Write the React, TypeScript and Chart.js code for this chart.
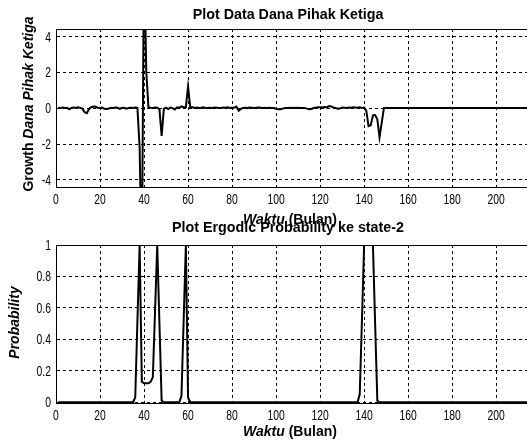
import React, { useEffect, useRef } from 'react';
import { Chart, registerables } from 'chart.js';

Chart.register(...registerables);

// Month axis ticks (shared by both panels)
const X_TICKS = [0, 20, 40, 60, 80, 100, 120, 140, 160, 180, 200];
const X_MAX = 214;

// Growth of third-party funds, one value per month (months 1..214);
// the month-39/40 swing runs past the fixed axis limits
const GROWTH = [
  0.03, 0.02, 0.04, 0.01, 0.03, -0.06, 0.02, 0.04, 0.01, 0.05,
  0.02, -0.02, -0.22, -0.28, -0.04, 0.06, 0.1, 0.08, 0.03, 0.02,
  0.04, -0.03, -0.04, -0.02, 0.03, 0.02, 0.04, 0.03, -0.03, 0.02,
  0.03, -0.02, 0.02, 0.03, 0.01, 0.04, 0.02, -2.2, -9.0, 9.0,
  2.1, 0.06, 0.03, 0.02, 0.04, 0.03, -0.05, -1.55, -0.04, 0.03,
  -0.05, 0.04, 0.01, -0.07, 0.05, 0.02, 0.1, 0.06, 0.06, 1.2,
  0.05, 0.05, 0.02, 0.04, 0.01, 0.03, 0.05, 0.02, 0.01, 0.03,
  0.02, 0.04, 0.03, 0.01, 0.02, 0.04, 0.03, 0.05, 0.02, 0.03,
  0.04, 0.08, -0.14, -0.04, 0.02, 0.03, 0.02, 0.04, 0.03, 0.02,
  0.03, 0.04, 0.03, 0.02, 0.03, 0.02, 0.03, 0.02, 0.01, -0.04,
  -0.06, -0.05, -0.02, 0.01, 0.02, 0.03, 0.02, 0.03, 0.02, 0.03,
  0.02, 0.01, 0.02, -0.02, -0.05, -0.04, 0.01, 0.03, 0.05, 0.06,
  0.04, 0.07, 0.05, 0.12, 0.1, 0.04, 0.02, -0.03, -0.02, 0.04,
  0.03, 0.02, 0.04, 0.03, 0.05, 0.04, 0.03, 0.05, 0.02, 0.04,
  -0.15, -1.0, -0.95, -0.4, -0.38, -0.62, -1.62, -0.8, 0.02, 0.02,
  0.02, 0.02, 0.02, 0.02, 0.02, 0.02, 0.02, 0.02, 0.02, 0.02,
  0.02, 0.02, 0.02, 0.02, 0.02, 0.02, 0.02, 0.02, 0.02, 0.02,
  0.02, 0.02, 0.02, 0.02, 0.02, 0.02, 0.02, 0.02, 0.02, 0.02,
  0.02, 0.02, 0.02, 0.02, 0.02, 0.02, 0.02, 0.02, 0.02, 0.02,
  0.02, 0.02, 0.02, 0.02, 0.02, 0.02, 0.02, 0.02, 0.02, 0.02,
  0.02, 0.02, 0.02, 0.02, 0.02, 0.02, 0.02, 0.02, 0.02, 0.02,
  0.02, 0.02, 0.02, 0.02,
];
const GROWTH_TICKS = [-4, -2, 0, 2, 4];

// Ergodic probability of being in state 2, one value per month (months 1..214)
const PROB = [
  0, 0, 0, 0, 0, 0, 0, 0, 0, 0,
  0, 0, 0, 0, 0, 0, 0, 0, 0, 0,
  0, 0, 0, 0, 0, 0, 0, 0, 0, 0,
  0, 0, 0, 0, 0, 0.03, 0.52, 1, 0.13, 0.12,
  0.12, 0.12, 0.13, 0.16, 0.58, 1, 0.5, 0.01, 0, 0,
  0, 0, 0, 0, 0, 0, 0.04, 0.52, 1, 0.03,
  0, 0, 0, 0, 0, 0, 0, 0, 0, 0,
  0, 0, 0, 0, 0, 0, 0, 0, 0, 0,
  0, 0, 0, 0, 0, 0, 0, 0, 0, 0,
  0, 0, 0, 0, 0, 0, 0, 0, 0, 0,
  0, 0, 0, 0, 0, 0, 0, 0, 0, 0,
  0, 0, 0, 0, 0, 0, 0, 0, 0, 0,
  0, 0, 0, 0, 0, 0, 0, 0, 0, 0,
  0, 0, 0, 0, 0, 0, 0, 0.05, 0.52, 1,
  1, 1, 1, 1, 0.5, 0.01, 0, 0, 0, 0,
  0, 0, 0, 0, 0, 0, 0, 0, 0, 0,
  0, 0, 0, 0, 0, 0, 0, 0, 0, 0,
  0, 0, 0, 0, 0, 0, 0, 0, 0, 0,
  0, 0, 0, 0, 0, 0, 0, 0, 0, 0,
  0, 0, 0, 0, 0, 0, 0, 0, 0, 0,
  0, 0, 0, 0, 0, 0, 0, 0, 0, 0,
  0, 0, 0, 0,
];
const PROB_TICKS = [0, 0.2, 0.4, 0.6, 0.8, 1];

const WIDTH = 527;
const PLOT_LEFT = 56;
const FAMILY = '"Liberation Sans", Arial, sans-serif';
const TICK_SIZE = 14;
const TICK_SQUEEZE = 0.74; // narrow tick-label digits
const TICK_RIGHT = 51;

type Part = { text: string; italic?: boolean };

function drawParts(ctx: CanvasRenderingContext2D, parts: Part[], cx: number, baseline: number, size: number) {
  const fontOf = (p: Part) => `${p.italic ? 'italic ' : ''}bold ${size}px ${FAMILY}`;
  let total = 0;
  const widths = parts.map((p) => {
    ctx.font = fontOf(p);
    const w = ctx.measureText(p.text).width;
    total += w;
    return w;
  });
  let x = cx - total / 2;
  ctx.textAlign = 'left';
  ctx.textBaseline = 'alphabetic';
  parts.forEach((p, i) => {
    ctx.font = fontOf(p);
    ctx.fillText(p.text, x, baseline);
    x += widths[i];
  });
}

function drawTickLabel(ctx: CanvasRenderingContext2D, text: string, x: number, y: number, align: CanvasTextAlign) {
  ctx.save();
  ctx.translate(x, y);
  ctx.scale(TICK_SQUEEZE, 1);
  ctx.font = `${TICK_SIZE}px ${FAMILY}`;
  ctx.textAlign = align;
  ctx.textBaseline = 'alphabetic';
  ctx.fillText(text, 0, 0);
  ctx.restore();
}

// Draws the box top, tick labels, the title and the mixed-style axis labels
const panelDecor = {
  id: 'panelDecor',
  afterDraw(chart: any, _args: any, opts: any) {
    const { ctx, chartArea: a, scales } = chart;
    ctx.save();
    ctx.strokeStyle = '#000';
    ctx.lineWidth = 1;
    ctx.beginPath();
    ctx.moveTo(a.left, Math.round(a.top) + 0.5);
    ctx.lineTo(a.right, Math.round(a.top) + 0.5);
    ctx.stroke();
    ctx.fillStyle = '#000';

    for (const t of scales.x.ticks) {
      drawTickLabel(ctx, String(t.value), scales.x.getPixelForValue(t.value), a.bottom + 16.5, 'center');
    }
    for (const t of scales.y.ticks) {
      drawTickLabel(ctx, String(t.value), TICK_RIGHT, scales.y.getPixelForValue(t.value) + 5, 'right');
    }

    drawParts(ctx, [{ text: opts.title }], opts.titleX, opts.titleBaseline, 14.3);
    drawParts(ctx, opts.xLabel, opts.xLabelX, opts.xLabelBaseline, 14);
    ctx.translate(opts.yLabelBaseline, opts.yLabelCenter);
    ctx.rotate(-Math.PI / 2);
    drawParts(ctx, opts.yLabel, 0, 0, 14);
    ctx.restore();
  },
};

interface Panel {
  values: number[];
  yTicks: number[];
  yMin: number;
  yMax: number;
  height: number;
  plotTop: number;
  plotBottom: number;
  decor: any;
}

function buildChart(canvas: HTMLCanvasElement, p: Panel) {
  return new Chart(canvas, {
    type: 'line',
    data: {
      datasets: [
        {
          data: p.values.map((y, i) => ({ x: i + 1, y })),
          borderColor: '#000',
          borderWidth: 2,
          pointRadius: 0,
          tension: 0,
          fill: false,
        },
      ],
    },
    plugins: [panelDecor],
    options: {
      responsive: false,
      animation: false,
      events: [],
      layout: { padding: { top: p.plotTop, left: 0, right: 0, bottom: 0 } },
      plugins: {
        legend: { display: false },
        tooltip: { enabled: false },
        panelDecor: p.decor,
      } as any,
      scales: {
        x: {
          type: 'linear',
          min: 0,
          max: X_MAX,
          afterBuildTicks: (s: any) => {
            s.ticks = X_TICKS.map((v) => ({ value: v }));
          },
          afterFit: (s: any) => {
            s.height = p.height - p.plotBottom;
          },
          ticks: { display: false },
          grid: { color: '#000', lineWidth: 1, drawTicks: false },
          border: { display: true, color: '#000', width: 1, dash: [3, 3] },
        },
        y: {
          type: 'linear',
          min: p.yMin,
          max: p.yMax,
          afterBuildTicks: (s: any) => {
            s.ticks = p.yTicks.map((v) => ({ value: v }));
          },
          afterFit: (s: any) => {
            s.width = PLOT_LEFT;
          },
          ticks: { display: false },
          grid: { color: '#000', lineWidth: 1, drawTicks: false },
          border: { display: true, color: '#000', width: 1, dash: [3, 3] },
        },
      },
    } as any,
  });
}

const TOP: Panel = {
  values: GROWTH,
  yTicks: GROWTH_TICKS,
  yMin: -4.42,
  yMax: 4.42,
  height: 232,
  plotTop: 29,
  plotBottom: 187.5,
  decor: {
    title: 'Plot Data Dana Pihak Ketiga',
    titleX: 288,
    titleBaseline: 19,
    xLabel: [{ text: 'Waktu', italic: true }, { text: ' (Bulan)' }],
    xLabelX: 290,
    xLabelBaseline: 224,
    yLabel: [{ text: 'Growth ' }, { text: 'Dana Pihak Ketiga', italic: true }],
    yLabelBaseline: 33,
    yLabelCenter: 104,
  },
};

const BOTTOM: Panel = {
  values: PROB,
  yTicks: PROB_TICKS,
  yMin: -0.008,
  yMax: 1,
  height: 232,
  plotTop: 30,
  plotBottom: 188.5,
  decor: {
    title: 'Plot Ergodic Probability ke state-2',
    titleX: 288,
    titleBaseline: 17,
    xLabel: [{ text: 'Waktu', italic: true }, { text: ' (Bulan)' }],
    xLabelX: 290,
    xLabelBaseline: 221,
    yLabel: [{ text: 'Probability', italic: true }],
    yLabelBaseline: 19,
    yLabelCenter: 107.5,
  },
};

export default function App() {
  const topRef = useRef<HTMLCanvasElement>(null);
  const bottomRef = useRef<HTMLCanvasElement>(null);

  useEffect(() => {
    const charts: Chart[] = [];
    if (topRef.current) charts.push(buildChart(topRef.current, TOP));
    if (bottomRef.current) charts.push(buildChart(bottomRef.current, BOTTOM));
    return () => charts.forEach((c) => c.destroy());
  }, []);

  return (
    <div style={{ position: 'fixed', left: 0, top: 0, width: WIDTH, height: 447, background: '#fff', overflow: 'hidden' }}>
      <canvas
        ref={topRef}
        width={WIDTH}
        height={TOP.height}
        style={{ position: 'absolute', left: 0, top: 0, width: WIDTH, height: TOP.height }}
      />
      <canvas
        ref={bottomRef}
        width={WIDTH}
        height={BOTTOM.height}
        style={{ position: 'absolute', left: 0, top: 215, width: WIDTH, height: BOTTOM.height }}
      />
    </div>
  );
}
